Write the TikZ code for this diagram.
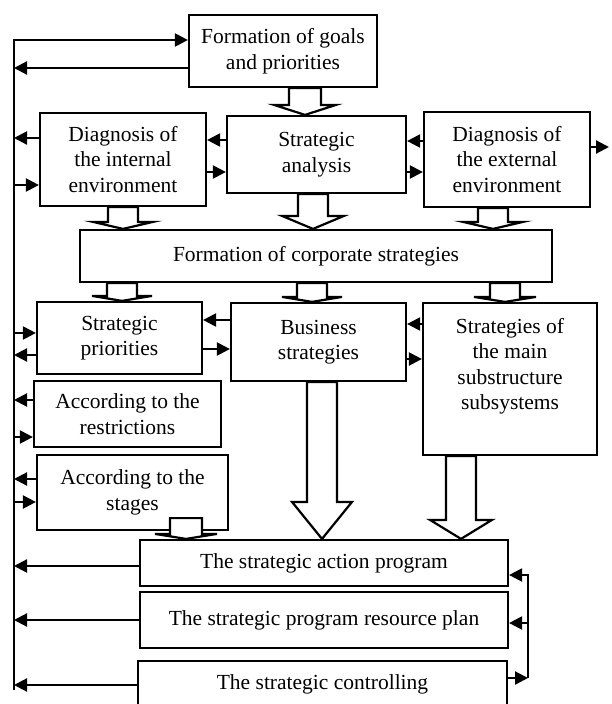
\documentclass[tikz,border=0pt]{standalone}
\usepackage{fontspec}
\setmainfont{Liberation Serif}
\usetikzlibrary{arrows.meta,calc}
\newcommand{\bigarrow}[7]{%
  \draw[hollow] let \p1=(#1.south), \p2=(#2.north) in
    (#3-#4,\y1+#7) -- (#3-#4,\y2+#6) -- (#3-#5,\y2+#6) -- (#3,\y2)
    -- (#3+#5,\y2+#6) -- (#3+#4,\y2+#6) -- (#3+#4,\y1+#7) -- cycle;}

\begin{document}
\begin{tikzpicture}[x=1pt,y=1pt,
   box/.style={draw,line width=2.2pt,inner sep=0pt,align=center,
      font=\fontsize{21.5}{25.5}\selectfont},
   txt/.style={inner sep=0pt,align=center,font=\fontsize{21.5}{25.5}\selectfont},
   arr/.style={line width=2.2pt,-{Triangle[length=13pt,width=13pt]}},
   hollow/.style={draw,fill=white,line width=2.2pt,line join=miter}]
   \useasboundingbox (0,0) rectangle (611,-704);
   \node[box,minimum width=188,minimum height=72] (goals) at (283,-51)
     {Formation of goals\\and priorities};
   \node[box,minimum width=166,minimum height=93] (int) at (123,-159.5)
     {Diagnosis of\\the internal\\environment};
   \node[box,minimum width=179,minimum height=77] (ana) at (316.5,-154.5)
     {Strategic\\analysis};
   \node[box,minimum width=166,minimum height=95] (ext) at (507,-159.5)
     {Diagnosis of\\the external\\environment};
   \node[box,minimum width=472,minimum height=52] (corp) at (316,-256)
     {Formation of corporate strategies};
   \node[box,minimum width=165,minimum height=72] (pri) at (119.5,-338)
     {Strategic\\priorities};
   \node[box,minimum width=175,minimum height=78] (bus) at (318.5,-342)
     {Business\\strategies};
   \node[box,minimum width=174,minimum height=152] (sub) at (510,-379) {};
   \node[txt] (subtxt) at (510,-366)
     {Strategies of\\the main\\substructure\\subsystems};
   \node[box,minimum width=187,minimum height=66] (res) at (127.5,-414)
     {According to the\\restrictions};
   \node[box,minimum width=191,minimum height=75] (stg) at (132.5,-492.5)
     {According to the\\stages};
   \node[box,minimum width=368,minimum height=46] (act) at (324,-563)
     {The strategic action program};
   \node[box,minimum width=368,minimum height=56] (plan) at (324,-620)
     {The strategic program resource plan};
   \node[box,minimum width=369,minimum height=46] (ctrl) at (322.5,-684)
     {The strategic controlling};

   \coordinate (ltop) at (14,-40);
   \coordinate (lbot) at (14,-690);
   \coordinate (rtop) at (528,-575);
   \coordinate (rbot) at (528,-678);
   \coordinate (out) at (609,-147);

   \draw[arr] (lbot) -- (ltop) -- (ltop -| goals.west);
   \draw[arr] (goals.west |- 0,-68) -- (ltop |- 0,-68);
   \draw[arr] (int.west |- 0,-138) -- (ltop |- 0,-138);
   \draw[arr] (ltop |- 0,-185) -- (int.west |- 0,-185);
   \draw[arr] (ltop |- 0,-333) -- (pri.west |- 0,-333);
   \draw[arr] (pri.west |- 0,-355) -- (ltop |- 0,-355);
   \draw[arr] (res.west |- 0,-400) -- (ltop |- 0,-400);
   \draw[arr] (ltop |- 0,-437) -- (res.west |- 0,-437);
   \draw[arr] (stg.west |- 0,-479) -- (ltop |- 0,-479);
   \draw[arr] (ltop |- 0,-502) -- (stg.west |- 0,-502);
   \draw[arr] (act.west |- 0,-566) -- (ltop |- 0,-566);
   \draw[arr] (plan.west |- 0,-620) -- (ltop |- 0,-620);
   \draw[arr] (ctrl.west |- 0,-685) -- (ltop |- 0,-685);

   \draw[arr] (ana.west |- 0,-140) -- (int.east |- 0,-140);
   \draw[arr] (int.east |- 0,-172) -- (ana.west |- 0,-172);
   \draw[arr] (ext.west |- 0,-141) -- (ana.east |- 0,-141);
   \draw[arr] (ana.east |- 0,-172) -- (ext.west |- 0,-172);
   \draw[arr] (ext.east |- out) -- (out);
   \draw[arr] (bus.west |- 0,-320) -- (pri.east |- 0,-320);
   \draw[arr] (pri.east |- 0,-349) -- (bus.west |- 0,-349);
   \draw[arr] (sub.west |- 0,-324) -- (bus.east |- 0,-324);
   \draw[arr] (bus.east |- 0,-359) -- (sub.west |- 0,-359);

   \draw[arr] (rbot) -- (rtop) -- (rtop -| act.east);
   \draw[arr] (rtop |- 0,-623) -- (plan.east |- 0,-623);
   \draw[arr] (ctrl.east |- rbot) -- (rbot);

   \bigarrow{goals}{ana}{305}{16}{31}{10}{0}
   \bigarrow{ana}{corp}{313}{15}{31}{13}{0}
   \bigarrow{int}{corp}{123}{15}{30}{7}{0}
   \bigarrow{ext}{corp}{493}{15}{30}{7}{0}
   \bigarrow{corp}{pri}{122}{15}{30}{5}{0}
   \bigarrow{corp}{bus}{312}{15}{30}{5}{0}
   \bigarrow{corp}{sub}{505}{15}{31}{5}{0}
   \bigarrow{bus}{act}{322}{15}{30}{37}{0}
   \bigarrow{sub}{act}{461}{15}{31}{19}{0}
   \bigarrow{stg}{act}{186}{16}{31}{5}{13}
\end{tikzpicture}
\end{document}
